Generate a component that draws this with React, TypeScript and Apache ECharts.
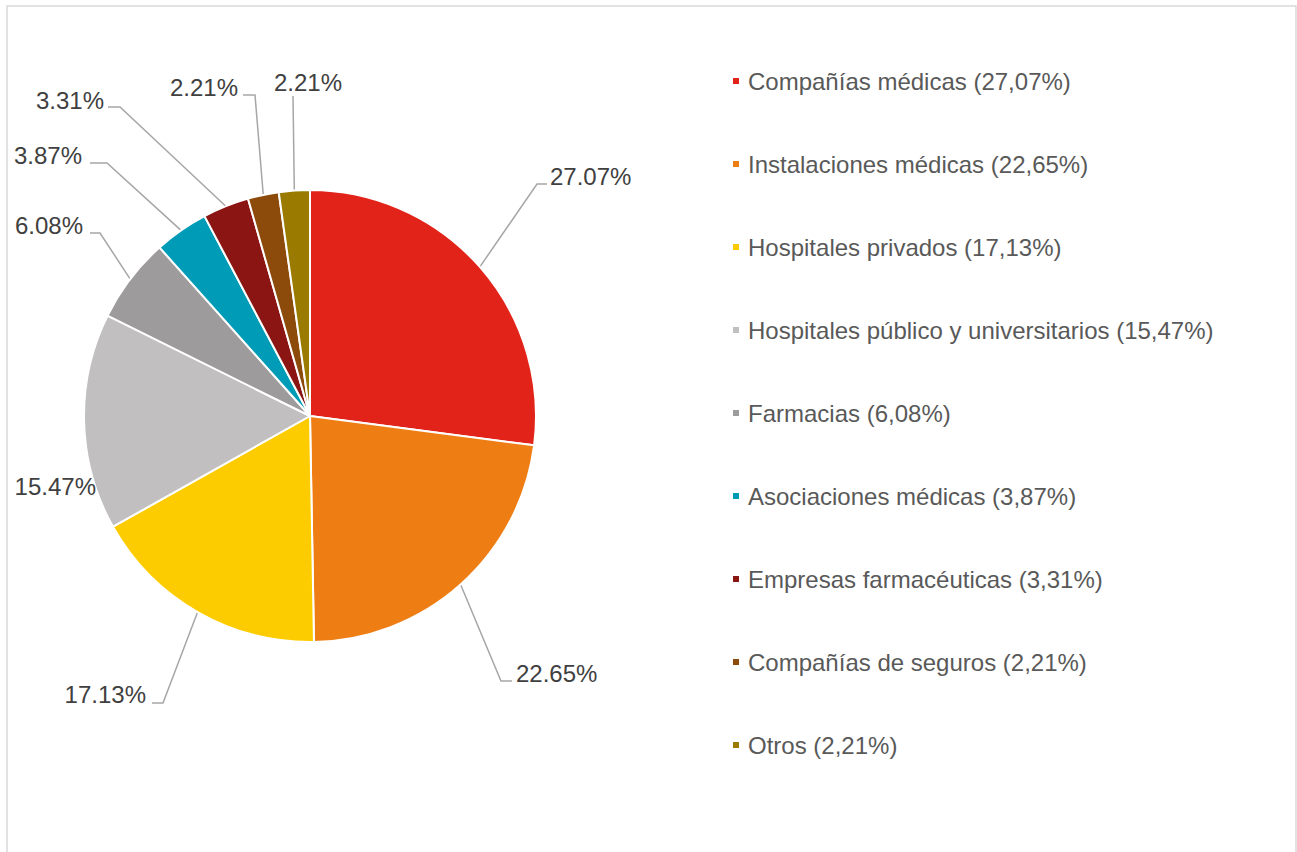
import React, { useEffect, useRef } from 'react';
import * as echarts from 'echarts';

const CATEGORIES = [
  'Compañías médicas',
  'Instalaciones médicas',
  'Hospitales privados',
  'Hospitales público y universitarios',
  'Farmacias',
  'Asociaciones médicas',
  'Empresas farmacéuticas',
  'Compañías de seguros',
  'Otros',
];
const VALUES = [27.07, 22.65, 17.13, 15.47, 6.08, 3.87, 3.31, 2.21, 2.21];
const COLORS = ['#E2231A', '#EE7E14', '#FDCC00', '#C1BFBF', '#9D9B9C', '#009CB7', '#8A1513', '#8C4A0B', '#9A7B00'];

const CENTER = [310, 416];
const RADIUS = 226;
const FONT = '"Liberation Sans", Arial, Helvetica, sans-serif';

// placement of each percentage label (layout only)
const LABEL_PLACEMENT: any[] = [
  { x: 550, y: 176, align: 'left', elbow: [537, 184], end: [547, 184] },
  { x: 516, y: 673, align: 'left', elbow: [501, 681], end: [512, 681] },
  { x: 146, y: 694, align: 'right', elbow: [163, 703], end: [152, 703] },
  { x: 96, y: 486, align: 'right' },
  { x: 83, y: 225, align: 'right', elbow: [100, 233], end: [90, 233] },
  { x: 82, y: 155, align: 'right', elbow: [107, 163], end: [90, 163] },
  { x: 104, y: 100, align: 'right', elbow: [120, 107], end: [108, 107] },
  { x: 238, y: 87, align: 'right', elbow: [255, 95], end: [243, 95] },
  { x: 308, y: 82, align: 'center', elbow: [293, 96], end: [293, 96] },
];

function edgePoint(i: number): number[] {
  const total = VALUES.reduce((a, b) => a + b, 0);
  let cum = 0;
  for (let k = 0; k < i; k++) cum += VALUES[k];
  const theta = (2 * Math.PI * (cum + VALUES[i] / 2)) / total;
  return [CENTER[0] + RADIUS * Math.sin(theta), CENTER[1] - RADIUS * Math.cos(theta)];
}

export default function App() {
  const ref = useRef<HTMLDivElement>(null);
  useEffect(() => {
    if (!ref.current) return;
    const chart = echarts.init(ref.current, undefined, { renderer: 'svg' });
    const fmtLegend = (name: string) => {
      const idx = CATEGORIES.indexOf(name);
      return `${name} (${VALUES[idx].toFixed(2).replace('.', ',')}%)`;
    };
    chart.setOption({
      animation: false,
      backgroundColor: '#ffffff',
      graphic: [
        {
          type: 'rect',
          shape: { x: 7, y: 6, width: 1289, height: 900 },
          style: { fill: 'none', stroke: '#D9D9D9', lineWidth: 1.5 },
          silent: true,
        },
      ],
      legend: {
        orient: 'vertical',
        left: 726,
        top: 64,
        itemWidth: 8,
        itemHeight: 8,
        itemGap: 59,
        icon: 'rect',
        data: CATEGORIES,
        formatter: fmtLegend,
        selectedMode: false,
        textStyle: {
          fontSize: 24,
          lineHeight: 24,
          color: '#595959',
          fontFamily: FONT,
          padding: [0, 0, 0, 3],
        },
      },
      series: [
        {
          type: 'pie',
          center: CENTER,
          radius: RADIUS,
          startAngle: 90,
          clockwise: true,
          avoidLabelOverlap: false,
          silent: true,
          itemStyle: { borderColor: '#ffffff', borderWidth: 2 },
          label: {
            show: true,
            position: 'outside',
            fontSize: 24,
            color: '#404040',
            fontFamily: FONT,
            formatter: (p: any) => `${Number(p.value).toFixed(2)}%`,
          },
          labelLine: {
            show: true,
            length: 20,
            length2: 10,
            lineStyle: { color: '#A6A6A6', width: 1.5 },
          },
          labelLayout: (params: any) => {
            const i = params.dataIndex;
            const p = LABEL_PLACEMENT[i];
            const res: any = { x: p.x, y: p.y, align: p.align, verticalAlign: 'middle' };
            if (p.elbow) res.labelLinePoints = [edgePoint(i), p.elbow, p.end];
            return res;
          },
          data: CATEGORIES.map((name, i) => ({
            name,
            value: VALUES[i],
            itemStyle: { color: COLORS[i] },
            ...(LABEL_PLACEMENT[i].elbow ? {} : { labelLine: { show: false } }),
          })),
        },
      ],
    });
    return () => chart.dispose();
  }, []);
  return (
    <div
      ref={ref}
      style={{ position: 'absolute', left: 0, top: 0, width: 1297, height: 852 }}
    />
  );
}
